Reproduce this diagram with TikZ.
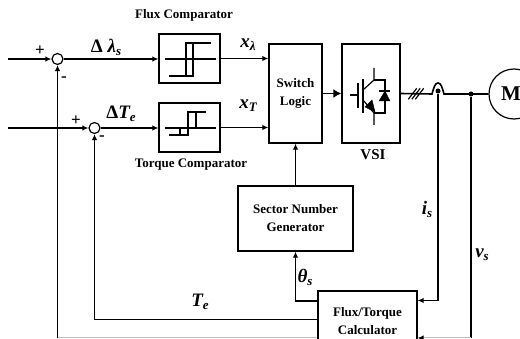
\documentclass[tikz,border=0pt]{standalone}
\usepackage{fontspec}
\setmainfont{Liberation Serif}
\usetikzlibrary{arrows.meta,calc}
\tikzset{
	wire/.style={line width=1.2pt},
	sig/.style={line width=1.2pt,-{Latex[length=6pt,width=5.5pt]}},
	block/.style={rectangle,draw,line width=1.3pt,inner sep=0pt,align=center,font=\bfseries\fontsize{13}{18}\selectfont},
	summer/.style={circle,draw,line width=1.2pt,inner sep=0pt,minimum size=11pt},
	caption/.style={inner sep=0pt,font=\bfseries\fontsize{13}{14}\selectfont},
	sym/.style={inner sep=0pt,font=\bfseries\itshape\fontsize{19}{20}\selectfont},
	sign/.style={inner sep=0pt,font=\bfseries\fontsize{17}{17}\selectfont},
	dot/.style={circle,fill,inner sep=0pt,minimum size=5pt}
}
\newcommand{\subs}[1]{\raisebox{-3pt}{\fontsize{13}{13}\selectfont #1}}
\begin{document}
\begin{tikzpicture}[x=1pt,y=-1pt]
	\path[use as bounding box,clip] (0,0) rectangle (520,339);

	% blocks
	\draw (57.5,59) node (sum1) [summer] {};
	\draw (94.5,128) node (sum2) [summer] {};
	\draw (189.5,58.5) node (flux) [block,minimum width=61pt,minimum height=49pt] {};
	\draw (189.5,127.5) node (torque) [block,minimum width=61pt,minimum height=49pt] {};
	\draw (295.5,93.5) node (switch) [block,minimum width=53pt,minimum height=99pt] {Switch\\Logic};
	\draw (371,93.5) node (vsi) [block,minimum width=58pt,minimum height=99pt] {};
	\draw (295.5,218.5) node (sector) [block,minimum width=115pt,minimum height=65pt] {Sector Number\\Generator};
	\draw (367.5,321) node (calc) [block,minimum width=99pt,minimum height=60pt,text depth=0pt] {Flux/Torque\\Calculator};
	\draw (514,94) node (motor) [circle,draw,line width=1.2pt,minimum size=50pt,inner sep=0pt] {};
	\draw (511,94) node (motortext) [inner sep=0pt,font=\bfseries\fontsize{21}{21}\selectfont] {M};

	\draw (438,91) node (tapi) [dot] {};
	\draw (471,94) node (tapv) [dot] {};

	\coordinate (in1) at (8,59);
	\coordinate (in2) at (8,128);
	\coordinate (hopl) at (432,94);
	\coordinate (hopr) at (444,94);
	\coordinate (fbl) at (57.5,338);
	\coordinate (fbr) at (471,338);

	% forward path
	\draw[sig] (in1) -- (sum1);
	\draw[sig] (in2) -- (sum2);
	\draw[sig] (sum1) -- (sum1 -| flux.west);
	\draw[sig] (sum2) -- (sum2 -| torque.west);
	\draw[sig] (flux.east) -- (flux.east -| switch.west);
	\draw[sig] (torque.east) -- (torque.east -| switch.west);
	\draw[line width=1.6pt,-{Latex[length=8pt,width=9pt]}] (switch.east) -- (vsi.west);
	\draw[line width=1.6pt] (vsi.east) -- (hopl) .. controls (434,87) and (435,83) .. (438,83) .. controls (441,83) and (442,87) .. (hopr) -- (motor.west);
	\draw[sig] (sector.north -| switch) -- (switch.south);
	\draw[wire] (408.3,99.3) -- (416.7,88.3);
	\draw[wire] (411.8,99.3) -- (420.2,88.3);
	\draw[wire] (415.3,99.3) -- (423.7,88.3);

	% feedback
	\draw[sig] (tapi) |- (calc.east |- 0,300.5);
	\draw[wire] (tapv) -- (fbr);
	\draw[sig] (fbl) -- (sum1);
	\draw[sig] (calc.west |- 0,319.5) -| (sum2);
	\draw[sig] (calc.west |- 0,301) -| (sector.south);
	\draw[black!25,line width=1pt] (fbl) -- (calc.west |- fbl);
	\draw[black!25,line width=1pt,-{Latex[length=6pt,width=5.5pt,black]}] (fbr) -- (calc.east |- fbr);

	% hysteresis symbols
	\draw[wire] (165,59) -- (216,59);
	\draw[wire] (169,76) -- (193,76) -- (193,43) (211,43) -- (186,43) -- (186,76);
	\draw[wire] (165,128) -- (216,128);
	\draw[wire] (169,135) -- (188,135) -- (188,112) -- (206,112) (196,112) -- (196,128) (180,128) -- (180,135);

	% switch
	\draw[wire] (350,95) -- (358,95);
	\draw[line width=1.3pt] (358,83) -- (358,108);
	\draw[line width=1.3pt] (363,79) -- (363,113);
	\draw[wire] (374,68) -- (374,80) -- (363,90);
	\draw[wire] (363,100) -- (374,113) -- (374,125);
	\draw[wire] (374,80) -- (385,80) -- (385,113) -- (374,113);
	\draw[wire] (379,91) -- (390,91);
	\draw[fill] (385,91) -- (390,101) -- (379,101) -- cycle;
	\draw[fill] (375,112) -- (365,107) -- (372,100) -- cycle;

	% labels
	\draw (184,15) node (fluxcap) [caption] {Flux Comparator};
	\draw (191,165) node (torquecap) [caption] {Torque Comparator};
	\draw (373,155) node (vsicap) [caption,font=\bfseries\fontsize{15}{15}\selectfont] {VSI};
	\draw (106,47) node (dlam) [sym] {{\upshape Δ} λ\subs{s}};
	\draw (121,114) node (dte) [sym] {{\upshape Δ}T\subs{e}};
	\draw (248,45) node (xlam) [sym] {x\subs{λ}};
	\draw (248,106) node (xtor) [sym] {x\subs{T}};
	\draw (427,209) node (isl) [sym] {i\subs{s}};
	\draw (482,255) node (vsl) [sym] {v\subs{s}};
	\draw (305,277) node (thl) [sym] {θ\subs{s}};
	\draw (200,302) node (tel) [sym] {T\subs{e}};
	\draw (40,51) node (plus1) [sign] {+};
	\draw (76,121) node (plus2) [sign] {+};
	\draw (64,79) node (minus1) [sign] {-};
	\draw (102,138) node (minus2) [sign] {-};
\end{tikzpicture}
\end{document}
